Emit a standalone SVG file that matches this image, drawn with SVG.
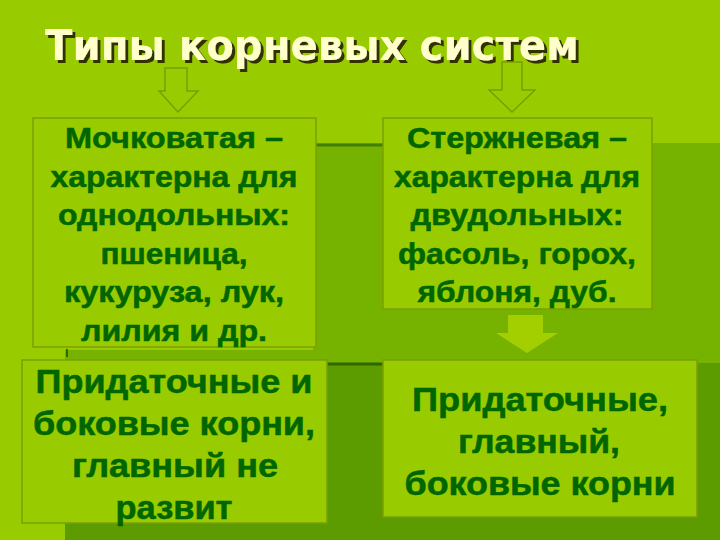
<svg xmlns="http://www.w3.org/2000/svg" width="720" height="540" viewBox="0 0 720 540">
  <defs>
    <filter id="shadow" x="-5%" y="-20%" width="110%" height="150%">
      <feOffset in="SourceAlpha" dx="3" dy="3" result="off"/>
      <feFlood flood-color="#333300"/>
      <feComposite in2="off" operator="in" result="sh"/>
      <feMerge><feMergeNode in="sh"/><feMergeNode in="SourceGraphic"/></feMerge>
    </filter>
  </defs>
  <style>
    .box { fill: #99CC00; stroke: #7C9F00; stroke-width: 1.5; }
    .t { font-family: "Liberation Sans", Arial, sans-serif; font-weight: bold; fill: #006600; stroke: #006600; stroke-width: 0.5; text-anchor: middle; }
    .t28 { font-size: 29px; }
    .t32 { font-size: 33px; }
    .title { font-family: "DejaVu Sans", Verdana, sans-serif; font-weight: bold; font-size: 42px; fill: #FFFFCC; }
    .outline-arrow { fill: #99CC00; stroke: #7A9E00; stroke-width: 1.5; }
  </style>
  <g id="background">
    <rect x="0" y="0" width="720" height="540" fill="#99CC00"/>
    <rect x="313" y="143" width="407" height="397" fill="#76B200"/>
    <rect x="65" y="350" width="262" height="190" fill="#76B200"/>
    <rect x="65" y="363" width="655" height="177" fill="#5C9C00"/>
    <line x1="316" y1="145" x2="383" y2="145" stroke="#3F8000" stroke-width="3"/>
    <line x1="327" y1="364" x2="383" y2="364" stroke="#2E6600" stroke-width="3"/>
    <line x1="67" y1="349" x2="67" y2="357" stroke="#2E6600" stroke-width="2"/>
  </g>
  <g id="title" filter="url(#shadow)">
    <text class="title" x="45" y="60" textLength="534" lengthAdjust="spacingAndGlyphs">Типы корневых систем</text>
  </g>
  <g id="connectors">
    <polygon class="outline-arrow" points="165,68 187,68 187,91 198,91 178,112 159,91 165,91"/>
    <polygon class="outline-arrow" points="502,62 522,62 522,90 535,90 512,112 489,90 502,90"/>
    <polygon points="508,315 543,315 543,333 558,333 527,353 496,333 508,333" fill="#A3CF00"/>
  </g>
  <g id="node-fibrous">
    <rect class="box" x="33" y="118" width="283" height="229"/>
    <text class="t t28" x="174" y="148" textLength="218" lengthAdjust="spacingAndGlyphs">Мочковатая –</text>
    <text class="t t28" x="174" y="186.5" textLength="247" lengthAdjust="spacingAndGlyphs">характерна для</text>
    <text class="t t28" x="174" y="225" textLength="232" lengthAdjust="spacingAndGlyphs">однодольных:</text>
    <text class="t t28" x="174" y="263.5" textLength="147" lengthAdjust="spacingAndGlyphs">пшеница,</text>
    <text class="t t28" x="174" y="302" textLength="220" lengthAdjust="spacingAndGlyphs">кукуруза, лук,</text>
    <text class="t t28" x="174" y="340.5" textLength="186" lengthAdjust="spacingAndGlyphs">лилия и др.</text>
  </g>
  <g id="node-taproot">
    <rect class="box" x="383" y="118" width="269" height="191"/>
    <text class="t t28" x="517" y="148" textLength="220" lengthAdjust="spacingAndGlyphs">Стержневая –</text>
    <text class="t t28" x="517" y="186.5" textLength="246" lengthAdjust="spacingAndGlyphs">характерна для</text>
    <text class="t t28" x="517" y="225" textLength="213" lengthAdjust="spacingAndGlyphs">двудольных:</text>
    <text class="t t28" x="517" y="263.5" textLength="238" lengthAdjust="spacingAndGlyphs">фасоль, горох,</text>
    <text class="t t28" x="517" y="302" textLength="199" lengthAdjust="spacingAndGlyphs">яблоня, дуб.</text>
  </g>
  <g id="node-fibrous-roots">
    <rect class="box" x="22" y="360" width="305" height="163"/>
    <text class="t t32" x="174" y="393" textLength="277" lengthAdjust="spacingAndGlyphs">Придаточные и</text>
    <text class="t t32" x="174" y="435" textLength="282" lengthAdjust="spacingAndGlyphs">боковые корни,</text>
    <text class="t t32" x="175" y="477" textLength="206" lengthAdjust="spacingAndGlyphs">главный не</text>
    <text class="t t32" x="174" y="519" textLength="117" lengthAdjust="spacingAndGlyphs">развит</text>
  </g>
  <g id="node-taproot-roots">
    <rect class="box" x="383" y="360" width="314" height="157"/>
    <text class="t t32" x="540" y="411" textLength="256" lengthAdjust="spacingAndGlyphs">Придаточные,</text>
    <text class="t t32" x="539" y="453" textLength="162" lengthAdjust="spacingAndGlyphs">главный,</text>
    <text class="t t32" x="540" y="495" textLength="271" lengthAdjust="spacingAndGlyphs">боковые корни</text>
  </g>
</svg>
